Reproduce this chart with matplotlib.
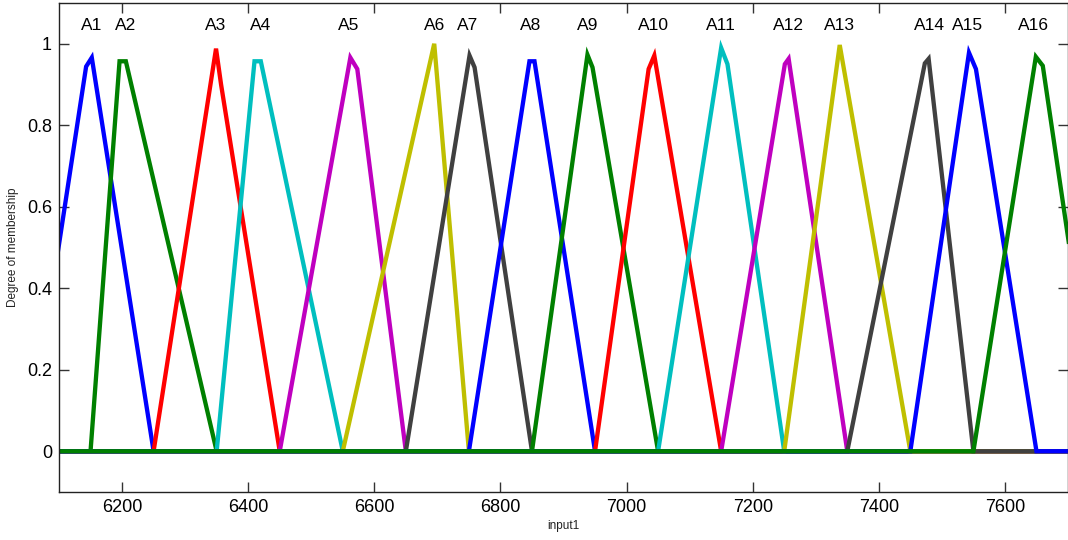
import matplotlib
matplotlib.use("Agg")
import matplotlib.pyplot as plt

plt.rcParams['font.family'] = ['Liberation Sans', 'DejaVu Sans']

# Membership function names
mf_names = ["A1", "A2", "A3", "A4", "A5", "A6", "A7", "A8",
            "A9", "A10", "A11", "A12", "A13", "A14", "A15", "A16"]

# Triangle vertices (input1 units)
left_foot = [6050, 6150, 6250, 6350, 6450, 6550, 6650, 6750,
             6850, 6950, 7050, 7150, 7250, 7350, 7450, 7550]
peak_x = [6152, 6196, 6349, 6410, 6562, 6695, 6751, 6846,
          6938, 7044, 7150, 7257, 7338, 7479, 7543, 7649]
peak_y = [0.966, 0.957, 0.988, 0.957, 0.966, 1.0, 0.971, 0.957,
          0.973, 0.971, 0.99, 0.963, 0.997, 0.963, 0.978, 0.968]
right_foot = [6250, 6350, 6450, 6550, 6650, 6750, 6850, 6950,
              7050, 7150, 7250, 7350, 7450, 7550, 7650, 7750]

# Sampling shoulders next to each peak
shoulder_x = [6143, 6206, 6357, 6420, 6573, 6703, 6759, 6854,
              6946, 7035, 7160, 7251, 7346, 7473, 7554, 7660]
shoulder_y = [0.944, 0.957, 0.90, 0.957, 0.938, 0.855, 0.942, 0.957,
              0.942, 0.938, 0.95, 0.95, 0.926, 0.952, 0.938, 0.946]

# Label centres
label_x = [6151, 6205, 6349, 6419, 6560, 6695, 6748, 6848,
           6938, 7043, 7150, 7257, 7338, 7481, 7541, 7646]

mf_colors = ["#0000ff", "#008000", "#ff0000", "#00bfbf", "#bf00bf", "#bfbf00", "#404040",
             "#0000ff", "#008000", "#ff0000", "#00bfbf", "#bf00bf", "#bfbf00", "#404040",
             "#0000ff", "#008000"]

x_ticks = [6200, 6400, 6600, 6800, 7000, 7200, 7400, 7600]
y_ticks = [0, 0.2, 0.4, 0.6, 0.8, 1]
y_tick_labels = ["0", "0.2", "0.4", "0.6", "0.8", "1"]
x_range = (6100, 7700)

fig = plt.figure(figsize=(10.68, 5.40), dpi=100)
ax = fig.add_axes([59 / 1068, 48 / 540, 1009 / 1068, 489 / 540])

for i, name in enumerate(mf_names):
    pts = [(min(x_range[0], left_foot[i]) - 50, 0.0), (left_foot[i], 0.0)]
    top = sorted([(peak_x[i], peak_y[i]), (shoulder_x[i], shoulder_y[i])])
    pts += top
    pts += [(right_foot[i], 0.0), (max(x_range[1], right_foot[i]) + 50, 0.0)]
    xs = [p[0] for p in pts]
    ys = [p[1] for p in pts]
    ax.plot(xs, ys, color=mf_colors[i], lw=3.1, solid_joinstyle='miter',
            solid_capstyle='butt', zorder=2 + i * 0.01)
    ax.text(label_x[i], 1.045, name, ha='center', va='center', fontsize=12.5,
            color='black')

ax.set_xlim(*x_range)
ax.set_ylim(-0.1, 1.1)
ax.set_xticks(x_ticks)
ax.set_xticklabels([str(v) for v in x_ticks])
ax.set_yticks(y_ticks)
ax.set_yticklabels(y_tick_labels)
ax.tick_params(direction='in', length=7, width=1, labelsize=13, pad=5,
               top=True, right=True, color='#333333')
for s in ax.spines.values():
    s.set_linewidth(1.0)
    s.set_color('#222222')

ax.set_xlabel("input1", fontsize=8.5, labelpad=3, color='#222222')
ax.set_ylabel("Degree of membership", fontsize=8.5, labelpad=6, color='#222222')

fig.savefig("out.png", dpi=100)
